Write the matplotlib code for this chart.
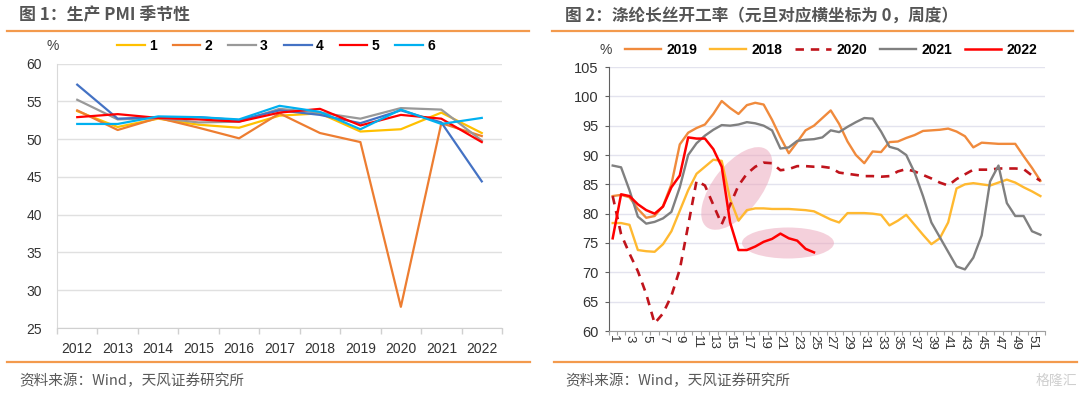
import matplotlib
matplotlib.use('Agg')
import matplotlib.pyplot as plt
import matplotlib.transforms as mtransforms
from matplotlib.patches import Ellipse
from matplotlib.lines import Line2D
import numpy as np

# ---------------- data ----------------
years = ['2012', '2013', '2014', '2015', '2016', '2017', '2018', '2019', '2020', '2021', '2022']
pmi_1 = [53.7, 51.6, 52.7, 51.9, 51.5, 53.1, 53.4, 51.0, 51.3, 53.5, 50.8]
pmi_2 = [53.8, 51.2, 52.8, 51.5, 50.1, 53.4, 50.8, 49.6, 27.8, 52.1, 50.4]
pmi_3 = [55.2, 52.6, 52.8, 52.2, 52.3, 54.0, 53.5, 52.7, 54.1, 53.9, 49.8]
pmi_4 = [57.2, 52.7, 52.9, 52.9, 52.5, 53.8, 53.2, 52.1, 53.8, 52.2, 44.4]
pmi_5 = [52.9, 53.3, 52.8, 52.6, 52.3, 53.5, 54.0, 51.8, 53.2, 52.7, 49.6]
pmi_6 = [52.0, 52.0, 53.0, 52.9, 52.6, 54.4, 53.6, 51.3, 53.9, 52.0, 52.8]
pmi_labels = ['1', '2', '3', '4', '5', '6']

weeks = list(range(1, 53))
rate_2019 = [83.0, 83.2, 82.8, 80.8, 79.3, 79.6, 81.3, 85.0, 91.8, 93.8, 94.6, 95.2, 97.0,
             99.2, 98.0, 97.0, 98.5, 98.9, 98.6, 96.0, 93.0, 90.3, 92.2, 94.2, 95.0, 96.3,
             97.6, 95.3, 92.3, 90.0, 88.6, 90.6, 90.5, 92.2, 92.3, 92.9, 93.4, 94.1, 94.2,
             94.3, 94.5, 94.0, 93.2, 91.3, 92.1, 92.0, 91.9, 91.9, 91.9, 89.8, 87.8, 85.6]
rate_2018 = [78.4, 78.4, 78.1, 73.8, 73.6, 73.5, 74.8, 77.0, 80.5, 84.0, 86.8, 88.0, 89.2,
             89.0, 82.5, 78.8, 80.6, 80.9, 80.9, 80.8, 80.8, 80.8, 80.7, 80.6, 80.4, 79.7,
             79.0, 78.5, 80.1, 80.1, 80.1, 80.0, 79.8, 78.0, 78.8, 79.8, 78.1, 76.4, 74.8,
             75.8, 78.5, 84.3, 85.0, 85.2, 85.0, 84.8, 85.3, 85.8, 85.3, 84.5, 83.8, 83.0]
rate_2020 = [83.0, 76.5, 73.2, 70.2, 66.3, 61.3, 63.0, 66.0, 70.5, 78.0, 85.6, 84.8, 81.5,
             78.2, 81.5, 84.8, 86.8, 88.0, 88.7, 88.6, 87.4, 87.6, 88.1, 88.1, 88.0, 88.0,
             87.8, 87.0, 86.8, 86.6, 86.4, 86.4, 86.3, 86.4, 87.2, 87.6, 87.2, 86.6, 86.0,
             85.3, 84.8, 85.9, 86.7, 87.5, 87.5, 87.5, 87.7, 87.7, 87.7, 87.6, 86.5, 85.6]
rate_2021 = [88.2, 87.9, 84.0, 79.5, 78.3, 78.6, 79.2, 80.3, 84.5, 90.0, 92.0, 93.3, 94.3,
             95.1, 95.0, 95.2, 95.6, 95.4, 95.0, 94.2, 91.1, 91.3, 92.4, 92.6, 92.7, 93.0,
             94.2, 93.9, 94.8, 95.6, 96.3, 96.2, 94.0, 91.4, 91.0, 90.0, 87.0, 83.0, 78.5,
             76.0, 73.5, 71.0, 70.5, 72.5, 76.3, 85.5, 88.2, 81.8, 79.6, 79.6, 77.0, 76.4]
weeks_2022 = list(range(1, 26))
rate_2022 = [75.8, 83.3, 83.0, 81.6, 80.6, 80.0, 81.2, 84.5, 86.5, 93.0, 92.8, 92.8, 91.0,
             88.0, 78.5, 73.8, 73.8, 74.4, 75.2, 75.7, 76.6, 75.8, 75.4, 74.0, 73.4]

# ---------------- figure ----------------
W, H = 1080, 397
fig = plt.figure(figsize=(W / 100, H / 100), dpi=100)
CJK = ['Noto Sans CJK SC', 'DejaVu Sans']
NUM = ['Liberation Sans', 'Noto Sans CJK SC', 'DejaVu Sans']
TITLE_C = '#555555'
RULE_C = '#F39A4D'
TXT_C = '#333333'


def fx(x):
    return x / W


def fy(y):
    return 1 - y / H


def ax_rect(x0, y0, x1, y1):
    return [fx(x0), fy(y1), fx(x1) - fx(x0), fy(y0) - fy(y1)]


# titles, rules, footers
fig.text(fx(19), fy(15.5), '图 1：生产 PMI 季节性', family=CJK, fontsize=12.2,
         fontweight='bold', color=TITLE_C, va='center', ha='left')
fig.text(fx(565), fy(15.5), '图 2：涤纶长丝开工率（元旦对应横坐标为 0，周度）', family=CJK,
         fontsize=12, fontweight='bold', color=TITLE_C, va='center', ha='left')
for (a, b, y) in [(7, 529, 31), (552, 1073, 31), (7, 530, 362), (554, 1077, 362)]:
    fig.add_artist(Line2D([fx(a), fx(b)], [fy(y), fy(y)], color=RULE_C, lw=1.6,
                          transform=fig.transFigure))
for x in (19, 565):
    fig.text(fx(x), fy(381), '资料来源：Wind，天风证券研究所', family=CJK, fontsize=10.5,
             color='#595959', va='center', ha='left')
fig.text(fx(1077), fy(381), '格隆汇', family=CJK, fontsize=10, color='#CFCFCF',
         va='center', ha='right')

# ---------------- left chart ----------------
ax1 = fig.add_axes(ax_rect(57, 63.5, 502, 328))
x1 = np.arange(len(years))
pmi_series = [pmi_1, pmi_2, pmi_3, pmi_4, pmi_5, pmi_6]
pmi_colors = ['#FFC000', '#ED7D31', '#999999', '#4472C4', '#FF0000', '#00B0F0']
for s, c, lab in zip(pmi_series, pmi_colors, pmi_labels):
    ax1.plot(x1, s, color=c, lw=1.6, label=lab, solid_joinstyle='round')
ax1.set_xlim(-0.5, len(years) - 0.5)
ax1.set_ylim(25, 60)
ax1.set_yticks(np.arange(25, 61, 5))
ax1.set_xticks(x1)
ax1.set_xticklabels(years)
ax1.set_xticks(np.arange(-0.5, len(years), 1), minor=True)
ax1.tick_params(axis='x', which='major', length=0, pad=10, labelsize=10, labelcolor=TXT_C)
ax1.tick_params(axis='x', which='minor', length=4, color='#D0D0D0', width=1)
ax1.tick_params(axis='y', length=0, pad=11, labelsize=10, labelcolor=TXT_C)
for t in ax1.get_xticklabels() + ax1.get_yticklabels():
    t.set_family(NUM)
ax1.grid(axis='y', color='#E0E0E0', lw=1)
ax1.set_axisbelow(True)
for sp in ['top', 'right']:
    ax1.spines[sp].set_visible(False)
ax1.spines['left'].set_color('#D9D9D9')
ax1.spines['bottom'].set_color('#D0D0D0')
fig.text(fx(53), fy(46), '%', family=NUM, fontsize=10, color='#404040', ha='center', va='center')
leg1 = fig.legend(*ax1.get_legend_handles_labels(), loc='center', ncol=6,
                  bbox_to_anchor=(fx(276), fy(46)), frameon=False, handlelength=2.0,
                  handletextpad=0.3, columnspacing=1.15,
                  prop={'family': NUM, 'size': 10, 'weight': 'bold'})

# ---------------- right chart ----------------
ax2 = fig.add_axes(ax_rect(608.5, 67, 1044.6, 331))
ax2.plot(weeks, rate_2019, color='#F08A3C', lw=1.7, label='2019')
ax2.plot(weeks, rate_2018, color='#FFB930', lw=1.7, label='2018')
ax2.plot(weeks, rate_2020, color='#C0141C', lw=1.9, ls=(0, (3.2, 2.6)), label='2020')
ax2.plot(weeks, rate_2021, color='#808080', lw=1.7, label='2021')
ax2.plot(weeks_2022, rate_2022, color='#FF0000', lw=1.8, label='2022')
ax2.set_xlim(0.5, 52.5)
ax2.set_ylim(60, 105)
ax2.set_yticks(np.arange(60, 106, 5))
odd = weeks[::2]
ax2.set_xticks(odd)
ax2.set_xticklabels([str(w) for w in odd], rotation=270)
ax2.set_xticks(np.arange(0.5, 53, 1), minor=True)
ax2.tick_params(axis='x', which='major', length=0, pad=3, labelsize=9.5, labelcolor=TXT_C)
ax2.tick_params(axis='x', which='minor', length=3, color='#A0A0A0', width=0.8)
ax2.tick_params(axis='y', length=3, color='#606060', width=0.8, pad=4, labelsize=10.5,
                labelcolor=TXT_C)
for t in ax2.get_xticklabels() + ax2.get_yticklabels():
    t.set_family(NUM)
ax2.grid(axis='y', color='#E3E3EE', lw=1)
ax2.set_axisbelow(True)
for sp in ['top', 'right']:
    ax2.spines[sp].set_visible(False)
ax2.spines['left'].set_color('#606060')
ax2.spines['bottom'].set_color('#A0A0A0')

# highlight ellipses (sized in inches, anchored at data points)
for (cx, cy, w, h, ang) in [(15.8, 84.3, 0.98, 0.48, 52), (21.9, 75.0, 0.92, 0.31, 0)]:
    tr = fig.dpi_scale_trans + mtransforms.ScaledTranslation(cx, cy, ax2.transData)
    ax2.add_patch(Ellipse((0, 0), w, h, angle=ang, transform=tr, facecolor='#EBA3B8',
                          alpha=0.5, edgecolor='none', zorder=1))

fig.text(fx(606), fy(50), '%', family=NUM, fontsize=10, color='#404040', ha='center', va='center')
leg2 = fig.legend(*ax2.get_legend_handles_labels(), loc='center', ncol=5,
                  bbox_to_anchor=(fx(831), fy(50)), frameon=False, handlelength=2.6,
                  handletextpad=0.35, columnspacing=0.95,
                  prop={'family': NUM, 'size': 10, 'weight': 'bold'})

fig.savefig('out.png', dpi=100)
